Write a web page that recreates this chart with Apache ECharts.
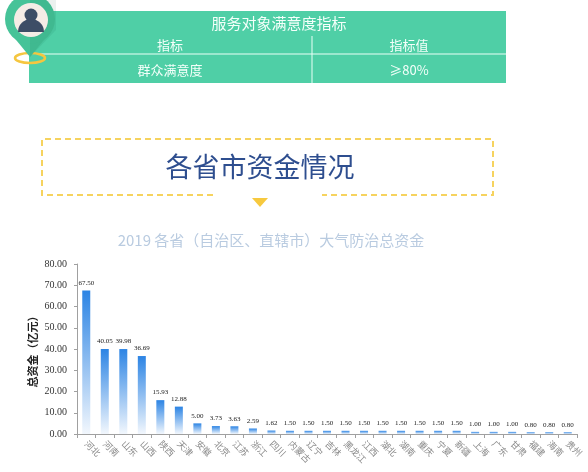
<!DOCTYPE html>
<html>
	<head>
		<meta charset="UTF-8">
		<title>各省市资金情况</title>
		<script src="https://cdn.jsdelivr.net/npm/echarts@6/dist/echarts.min.js" type="text/javascript" charset="utf-8"></script>
		<style>
			html, body { margin: 0; padding: 0; background: #fff; }
		</style>
	</head>
	<body>
		<div id="chart" style="width:588px;height:472px;"></div>
	</body>
	<script type="text/javascript">
        // 省份与资金（亿元）
        var provinces = ['河北', '河南', '山东', '山西', '陕西', '天津', '安徽', '北京', '江苏', '浙江', '四川',
            '内蒙古', '辽宁', '吉林', '黑龙江', '江西', '湖北', '湖南', '重庆', '宁夏', '新疆',
            '上海', '广东', '甘肃', '福建', '海南', '贵州'];
        var funds = [67.50, 40.05, 39.98, 36.69, 15.93, 12.88, 5.00, 3.73, 3.63, 2.59, 1.62,
            1.50, 1.50, 1.50, 1.50, 1.50, 1.50, 1.50, 1.50, 1.50, 1.50,
            1.00, 1.00, 1.00, 0.80, 0.80, 0.80];
        var yTicks = [0, 10, 20, 30, 40, 50, 60, 70, 80];

        // 表格文字
        var tableTitle = '服务对象满意度指标';
        var tableHead = ['指标', '指标值'];
        var tableRow = ['群众满意度', '≥80%'];

        var green = '#4fcfa6';
        var cjk = '"Noto Sans CJK SC", sans-serif';
        var serif = '"Liberation Serif", serif';

        var chart = echarts.init(document.getElementById('chart'));

        var graphics = [
            // 绿色表格
            { type: 'rect', shape: { x: 29, y: 11, width: 477, height: 72 }, style: { fill: green } },
            { type: 'line', shape: { x1: 40, y1: 54, x2: 506, y2: 54 }, style: { stroke: '#eafff6', lineWidth: 1 } },
            { type: 'line', shape: { x1: 312, y1: 36, x2: 312, y2: 83 }, style: { stroke: '#eafff6', lineWidth: 1 } },
            { type: 'text', x: 279, y: 23, style: { text: tableTitle, fill: '#f4fffa', font: '15px ' + cjk, align: 'center', verticalAlign: 'middle' } },
            { type: 'text', x: 170, y: 45, style: { text: tableHead[0], fill: '#f4fffa', font: '13px ' + cjk, align: 'center', verticalAlign: 'middle' } },
            { type: 'text', x: 409, y: 45, style: { text: tableHead[1], fill: '#f4fffa', font: '13px ' + cjk, align: 'center', verticalAlign: 'middle' } },
            { type: 'text', x: 170, y: 70, style: { text: tableRow[0], fill: '#f4fffa', font: '13px ' + cjk, align: 'center', verticalAlign: 'middle' } },
            { type: 'text', x: 409, y: 70, style: { text: tableRow[1], fill: '#f4fffa', font: '13px ' + cjk, align: 'center', verticalAlign: 'middle' } },

            // 定位图标
            { type: 'ellipse', shape: { cx: 30, cy: 58, rx: 15, ry: 5 }, style: { fill: 'none', stroke: '#f5c63f', lineWidth: 2.5 } },
            { type: 'polygon', shape: { points: [[8, 30], [52, 30], [30, 57]] }, style: { fill: '#46c398' } },
            { type: 'circle', shape: { cx: 30, cy: 19, r: 25 }, style: { fill: '#46c398' } },
            { type: 'polygon', shape: { points: [[30, -6], [56, -6], [56, 30], [30, 57]] }, style: { fill: 'rgba(0,80,50,0.08)' } },
            { type: 'circle', shape: { cx: 31, cy: 20, r: 17 }, style: { fill: '#f5ece6' } },
            { type: 'circle', shape: { cx: 31, cy: 15, r: 6.5 }, style: { fill: '#3d4d66' } },
            { type: 'sector', shape: { cx: 31, cy: 32, r: 13, startAngle: Math.PI, endAngle: 2 * Math.PI }, style: { fill: '#3d4d66' } },

            // 虚线标题框
            { type: 'polyline', shape: { points: [[213, 195], [42, 195], [42, 139], [493, 139], [493, 195], [322, 195]] },
              style: { fill: 'none', stroke: '#f6d35e', lineWidth: 2, lineDash: [6, 4] } },
            { type: 'polygon', shape: { points: [[252, 198], [268, 198], [260, 207]] }, style: { fill: '#f7c93e' } },
            { type: 'text', x: 260, y: 167, style: { text: '各省市资金情况', fill: '#2e4e8f', font: '27px ' + cjk, align: 'center', verticalAlign: 'middle' } }
        ];

        var option = {
            backgroundColor: '#fff',
            animation: false,
            title: {
                text: '2019 各省（自治区、直辖市）大气防治总资金',
                left: 266,
                top: 228,
                textAlign: 'center',
                textStyle: { color: '#b9cbe0', fontSize: 15, fontWeight: 'normal', fontFamily: cjk }
            },
            graphic: graphics,
            grid: { left: 77, right: 11, top: 264, bottom: 38, containLabel: false },
            xAxis: {
                type: 'category',
                data: provinces,
                axisLine: { lineStyle: { color: '#a0a0a0' } },
                axisTick: { show: true, length: 4, lineStyle: { color: '#a0a0a0' } },
                axisLabel: { interval: 0, rotate: -45, fontSize: 9, color: '#8a8a8a', margin: 8, fontFamily: cjk }
            },
            yAxis: {
                type: 'value',
                min: yTicks[0],
                max: yTicks[yTicks.length - 1],
                interval: 10,
                name: '总资金（亿元）',
                nameLocation: 'middle',
                nameGap: 39,
                nameMoveOverlap: false,
                nameTextStyle: { fontSize: 11, color: '#222', fontFamily: cjk, fontWeight: 'bold' },
                axisLine: { show: true, lineStyle: { color: '#a0a0a0' } },
                axisTick: { show: true, length: 3, lineStyle: { color: '#a0a0a0' } },
                splitLine: { show: false },
                axisLabel: {
                    fontSize: 10, color: '#333', margin: 10, fontFamily: serif,
                    formatter: function (v) { return v.toFixed(2); }
                }
            },
            series: [{
                type: 'bar',
                data: funds,
                barWidth: 8,
                itemStyle: {
                    color: new echarts.graphic.LinearGradient(0, 0, 0, 1, [
                        { offset: 0, color: '#2c84e4' },
                        { offset: 1, color: '#f2f7fd' }
                    ])
                },
                label: {
                    show: true,
                    position: 'top',
                    distance: 4,
                    fontSize: 7,
                    color: '#222',
                    fontFamily: serif,
                    formatter: function (p) { return p.value.toFixed(2); }
                }
            }]
        };

        chart.setOption(option);
	</script>
</html>
